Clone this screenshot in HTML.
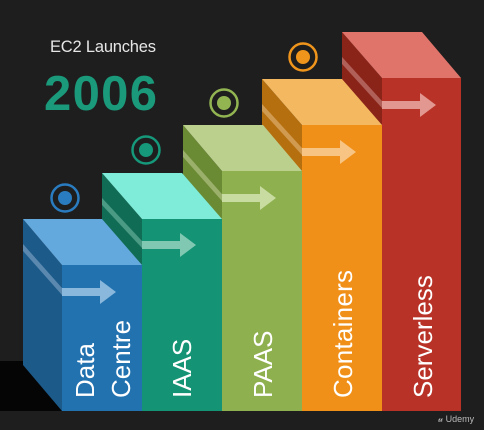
<!DOCTYPE html>
<html><head><meta charset="utf-8"><style>
html,body{margin:0;padding:0;background:#1e1e1e;}
svg{display:block;}
text{font-family:"Liberation Sans",sans-serif;}
</style></head><body>
<svg width="484" height="430" viewBox="0 0 484 430" xmlns="http://www.w3.org/2000/svg">
<rect width="484" height="430" fill="#1e1e1e"/>
<rect x="0" y="361" width="62" height="50" fill="#050505"/>
<text x="50" y="52" font-size="16.5" fill="#e6e6e6" textLength="106">EC2 Launches</text>
<text x="44" y="110" font-size="49" font-weight="bold" fill="#1a9a7a" textLength="113">2006</text>

<g fill="none" stroke-width="2.5">
<circle cx="65" cy="198" r="13.5" stroke="#2a7cc0"/>
<circle cx="146" cy="150" r="13.5" stroke="#16987a"/>
<circle cx="224" cy="103" r="13.5" stroke="#92b552"/>
<circle cx="303" cy="57" r="13.5" stroke="#f0951c"/>
</g>
<circle cx="65" cy="198" r="7" fill="#2a7cc0"/>
<circle cx="146" cy="150" r="7" fill="#16987a"/>
<circle cx="224" cy="103" r="7" fill="#92b552"/>
<circle cx="303" cy="57" r="7" fill="#f0951c"/>

<!-- Red -->
<polygon points="342,32 382,78 382,411 342,365" fill="#8a2419"/>
<polygon points="342,57 382,101 382,108 342,64" fill="#b06058"/>
<polygon points="342,32 422,32 461,78 382,78" fill="#e0746a"/>
<rect x="382" y="78" width="79" height="333" fill="#b83227"/>
<polygon points="382,101 420,101 420,93 436,105 420,117 420,109 382,109" fill="#e29890"/>

<!-- Orange -->
<polygon points="262,79 302,125 302,411 262,365" fill="#b56f0f"/>
<polygon points="262,104 302,148 302,155 262,111" fill="#d09a50"/>
<polygon points="262,79 342,79 382,125 302,125" fill="#f4b860"/>
<rect x="302" y="125" width="80" height="286" fill="#f09018"/>
<polygon points="302,148 340,148 340,140 356,152 340,164 340,156 302,156" fill="#f7c483"/>

<!-- Green -->
<polygon points="183,125 222,171 222,411 183,365" fill="#6a8a34"/>
<polygon points="183,150 222,194 222,201 183,157" fill="#9bb06a"/>
<polygon points="183,125 263,125 302,171 222,171" fill="#bcd08e"/>
<rect x="222" y="171" width="80" height="240" fill="#8fb04e"/>
<polygon points="222,194 260,194 260,186 276,198 260,210 260,202 222,202" fill="#c8dca2"/>

<!-- Teal -->
<polygon points="102,173 142,219 142,411 102,365" fill="#116c56"/>
<polygon points="102,198 142,241 142,248 102,205" fill="#4a9a84"/>
<polygon points="102,173 182,173 222,219 142,219" fill="#7eecd8"/>
<rect x="142" y="219" width="80" height="192" fill="#149474"/>
<polygon points="142,241 180,241 180,233 196,245 180,257 180,249 142,249" fill="#80c8b2"/>

<!-- Blue -->
<polygon points="23,219 62,265 62,411 23,365" fill="#1c5a8a"/>
<polygon points="23,244 62,288 62,295 23,251" fill="#5a88ae"/>
<polygon points="23,219 102,219 142,265 62,265" fill="#64a9dd"/>
<rect x="62" y="265" width="80" height="146" fill="#2272b0"/>
<polygon points="62,288 100,288 100,280 116,292 100,304 100,296 62,296" fill="#8ab8dc"/>

<g fill="#fff" font-size="26">
<text transform="translate(94,398) rotate(-90)">Data</text>
<text transform="translate(130,398) rotate(-90)">Centre</text>
<text transform="translate(191,398) rotate(-90)">IAAS</text>
<text transform="translate(272,398) rotate(-90)">PAAS</text>
<text transform="translate(352,398) rotate(-90)" textLength="128">Containers</text>
<text transform="translate(432,398) rotate(-90)">Serverless</text>
</g>
<text x="438" y="422" font-size="9" fill="#bbb">𝓊 Udemy</text>
</svg>
</body></html>
